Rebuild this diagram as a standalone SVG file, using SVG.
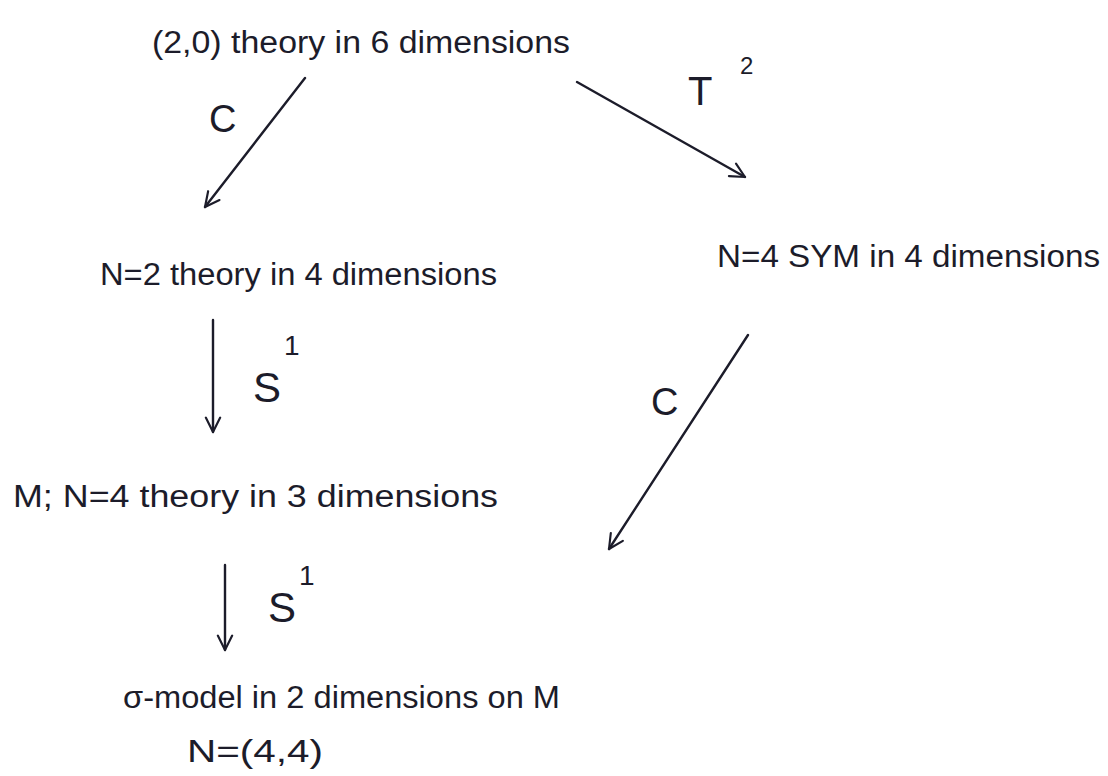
<svg xmlns="http://www.w3.org/2000/svg" width="1108" height="776" viewBox="0 0 1108 776">
<style>
  .t { font-family: "Liberation Sans", "DejaVu Sans", sans-serif; fill: #1c1c2a; font-size: 31px; }
  .lbl { font-family: "Liberation Sans", "DejaVu Sans", sans-serif; fill: #1c1c2a; }
  .c { fill: none; stroke: #1c1c2a; stroke-width: 2.4; stroke-linecap: round; }
</style>
<defs>
  <marker id="arr" viewBox="0 0 20 20" refX="18" refY="10" markerWidth="18" markerHeight="18" markerUnits="userSpaceOnUse" orient="auto">
    <path d="M2,2 L18,10 L2,18" fill="none" stroke="#1c1c2a" stroke-width="2.4" stroke-linecap="round" stroke-linejoin="round"/>
  </marker>
</defs>
<rect width="1108" height="776" fill="#ffffff"/>

<g id="connectors">
  <g id="e-c-left">
    <line class="c" x1="305" y1="78" x2="205" y2="207" marker-end="url(#arr)"/>
    <text class="lbl" x="209" y="132" font-size="38">C</text>
  </g>
  <g id="e-t2">
    <line class="c" x1="577" y1="82" x2="745" y2="177" marker-end="url(#arr)"/>
    <text class="lbl" x="688" y="105" font-size="40">T</text>
    <text class="lbl" x="740" y="74" font-size="24">2</text>
  </g>
  <g id="e-s1-a">
    <line class="c" x1="213" y1="320" x2="213" y2="432" marker-end="url(#arr)"/>
    <text class="lbl" x="253" y="402" font-size="42">S</text>
    <text class="lbl" x="284" y="355" font-size="28">1</text>
  </g>
  <g id="e-c-right">
    <line class="c" x1="748" y1="335" x2="609" y2="549" marker-end="url(#arr)"/>
    <text class="lbl" x="651" y="415" font-size="38">C</text>
  </g>
  <g id="e-s1-b">
    <line class="c" x1="225" y1="565" x2="225" y2="650" marker-end="url(#arr)"/>
    <text class="lbl" x="268" y="622" font-size="42">S</text>
    <text class="lbl" x="299" y="585" font-size="28">1</text>
  </g>
</g>

<g id="n-20">
  <text class="t" x="152" y="53" textLength="418" lengthAdjust="spacingAndGlyphs">(2,0) theory in 6 dimensions</text>
</g>
<g id="n-n2">
  <text class="t" x="100" y="285" textLength="397" lengthAdjust="spacingAndGlyphs">N=2 theory in 4 dimensions</text>
</g>
<g id="n-n4sym">
  <text class="t" x="717" y="267" textLength="383" lengthAdjust="spacingAndGlyphs">N=4 SYM in 4 dimensions</text>
</g>
<g id="n-n4-3d">
  <text class="t" x="13" y="507" textLength="485" lengthAdjust="spacingAndGlyphs">M; N=4 theory in 3 dimensions</text>
</g>
<g id="n-sigma">
  <text class="t" x="123" y="708" textLength="437" lengthAdjust="spacingAndGlyphs">σ-model in 2 dimensions on M</text>
  <text class="t" x="187" y="762" textLength="136" lengthAdjust="spacingAndGlyphs">N=(4,4)</text>
</g>
</svg>
